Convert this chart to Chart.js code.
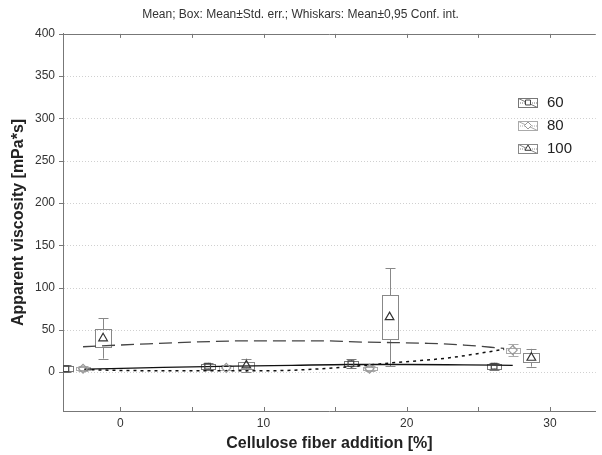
<!DOCTYPE html>
<html>
<head>
<meta charset="utf-8">
<script src="https://cdn.jsdelivr.net/npm/chart.js@4/dist/chart.umd.min.js"></script>
<style>
html,body{margin:0;padding:0;background:#fff;}
#wrap{width:602px;height:455px;}
</style>
</head>
<body>
<div id="wrap"><canvas id="c" width="602" height="455"></canvas></div>
<script>
// ---- data ----
const seriesNames = ['60', '80', '100'];
const xTickLabels = [0, 10, 20, 30];
const yTickLabels = [0, 50, 100, 150, 200, 250, 300, 350, 400];

const x60 = [-3.8, 6.1, 16.1, 26.1];
const mean60 = [4, 7, 10, 7];
const se60 = [3, 3, 3, 3];
const ci60 = [4, 4, 5, 4];

const x80 = [-2.6, 7.4, 17.4, 27.4];
const mean80 = [4, 5, 4, 26];
const se80 = [2, 2, 2, 3];
const ci80 = [3, 3, 3, 7];

const x100 = [-1.2, 8.8, 18.8, 28.7];
const mean100 = [40, 8, 65, 17];
const se100 = [10.5, 4, 26, 5.5];
const ci100 = [24, 8, 58, 10.5];

const fitX60 = [-2.5, 3, 8, 12, 16, 20, 24, 27.4];
const fitY60 = [3.5, 5.5, 7, 8, 9, 9, 8.5, 8];
const fitX80 = [-2.5, 0, 5, 10, 15, 19, 23, 26.8];
const fitY80 = [3, 2, 1.5, 1.5, 5, 11, 17, 27];
const fitX100 = [-2.6, 1.3, 5, 9, 14, 17, 21.5, 24, 26.8];
const fitY100 = [30, 33, 35.5, 37, 37, 35.5, 34, 32, 28];

const pts = (xs, ys) => xs.map((x, i) => ({x: x, y: ys[i]}));

const styles = [
  {marker: 'rect', mColor: '#444', bColor: '#777', boxW: 14, r: 4},
  {marker: 'rectRot', mColor: '#999', bColor: '#aaa', boxW: 14, r: 4.5},
  {marker: 'triangle', mColor: '#333', bColor: '#888', boxW: 16, r: 5}
];
const groups = [
  {xs: x60, m: mean60, se: se60, ci: ci60},
  {xs: x80, m: mean80, se: se80, ci: ci80},
  {xs: x100, m: mean100, se: se100, ci: ci100}
];

const FONT = '"Liberation Sans", Arial, sans-serif';

const boxPlugin = {
  id: 'boxes',
  beforeDatasetsDraw(chart) {
    const ctx = chart.ctx, xs = chart.scales.x, ys = chart.scales.y, a = chart.chartArea;
    ctx.save();
    // grid lines (faint dotted)
    ctx.strokeStyle = '#d0d0d0'; ctx.lineWidth = 1; ctx.setLineDash([1, 2]);
    ctx.beginPath();
    yTickLabels.forEach(v => {
      if (v >= 400) return;
      const py = Math.round(ys.getPixelForValue(v)) + 0.5;
      ctx.moveTo(a.left + 1, py); ctx.lineTo(a.right, py);
    });
    ctx.stroke();
    ctx.setLineDash([]);
    ctx.beginPath(); ctx.rect(a.left, a.top, a.right - a.left, a.bottom - a.top); ctx.clip();
    groups.forEach((g, si) => {
      const st = styles[si];
      ctx.strokeStyle = st.bColor; ctx.lineWidth = 1;
      g.xs.forEach((x, i) => {
        const px = Math.round(xs.getPixelForValue(x)) + 0.5;
        const bt = ys.getPixelForValue(g.m[i] + g.se[i]);
        const bb = ys.getPixelForValue(g.m[i] - g.se[i]);
        const wt = ys.getPixelForValue(g.m[i] + g.ci[i]);
        const wb = ys.getPixelForValue(g.m[i] - g.ci[i]);
        ctx.beginPath();
        ctx.moveTo(px, wt); ctx.lineTo(px, bt);
        ctx.moveTo(px, bb); ctx.lineTo(px, wb);
        ctx.moveTo(px - 5, Math.round(wt) + 0.5); ctx.lineTo(px + 5, Math.round(wt) + 0.5);
        ctx.moveTo(px - 5, Math.round(wb) + 0.5); ctx.lineTo(px + 5, Math.round(wb) + 0.5);
        ctx.stroke();
        ctx.strokeRect(px - st.boxW / 2, Math.round(bt) + 0.5, st.boxW, Math.round(bb) - Math.round(bt));
      });
    });
    ctx.restore();
  },
  afterDraw(chart) {
    const ctx = chart.ctx, xs = chart.scales.x, ys = chart.scales.y, a = chart.chartArea;
    ctx.save();
    ctx.strokeStyle = '#777'; ctx.lineWidth = 1;
    // top frame
    ctx.beginPath();
    ctx.moveTo(a.left, Math.round(a.top) + 0.5); ctx.lineTo(a.right, Math.round(a.top) + 0.5);
    ctx.stroke();
    // x ticks (inside, top & bottom)
    ctx.beginPath();
    for (let v = 0; v <= 30; v += 5) {
      const px = Math.round(xs.getPixelForValue(v)) + 0.5;
      ctx.moveTo(px, a.top); ctx.lineTo(px, a.top + 4);
      ctx.moveTo(px, a.bottom); ctx.lineTo(px, a.bottom - 4);
    }
    // y ticks (outside)
    yTickLabels.forEach(v => {
      const py = Math.round(ys.getPixelForValue(v)) + 0.5;
      ctx.moveTo(a.left - 4, py); ctx.lineTo(a.left, py);
    });
    ctx.stroke();
    // legend
    const lx = 518, ly = [102, 125, 148];
    seriesNames.forEach((name, i) => {
      const st = styles[i];
      const y0 = ly[i] - 4, w = 19, h = 9;
      ctx.strokeStyle = st.bColor; ctx.lineWidth = 1;
      ctx.strokeRect(lx + 0.5, y0 + 0.5, w, h);
      ctx.beginPath(); ctx.moveTo(lx + 0.5, y0 + 0.5); ctx.lineTo(lx + w + 0.5, y0 + h + 0.5); ctx.stroke();
      ctx.setLineDash([1, 1]);
      ctx.beginPath(); ctx.moveTo(lx, y0 + h / 2 + 0.5); ctx.lineTo(lx + w, y0 + h / 2 + 0.5); ctx.stroke();
      ctx.setLineDash([]);
      ctx.fillStyle = '#fff';
      ctx.strokeStyle = st.mColor;
      Chart.helpers.drawPoint(ctx, {pointStyle: st.marker, radius: 3.5, rotation: 0, borderWidth: 1}, lx + w / 2 + 0.5, ly[i] + 0.5);
      ctx.fillStyle = '#222';
      ctx.font = '15px ' + FONT;
      ctx.textBaseline = 'middle';
      ctx.textAlign = 'left';
      ctx.fillText(name, 547, ly[i] + 1);
    });
    ctx.restore();
  }
};

const lineDs = (xs, ys, color, dash, w) => ({
  type: 'line', data: pts(xs, ys), borderColor: color, borderWidth: w, borderDash: dash,
  pointRadius: 0, tension: 0.4, cubicInterpolationMode: 'monotone', fill: false, order: 2
});

const markerDs = (g, st) => ({
  type: 'scatter', data: pts(g.xs, g.m), pointStyle: st.marker, pointRadius: st.r,
  pointBorderColor: st.mColor, pointBackgroundColor: 'rgba(255,255,255,0)', pointBorderWidth: 1.2, order: 1
});

new Chart(document.getElementById('c'), {
  data: {
    datasets: [
      lineDs(fitX60, fitY60, '#111', [], 1.3),
      lineDs(fitX80, fitY80, '#111', [3, 4], 1.5),
      lineDs(fitX100, fitY100, '#444', [13, 6], 1.3),
      markerDs(groups[0], styles[0]),
      markerDs(groups[1], styles[1]),
      markerDs(groups[2], styles[2])
    ]
  },
  options: {
    responsive: false,
    animation: false,
    layout: {padding: {right: 1, left: 0, top: 0, bottom: 0}},
    plugins: {
      legend: {display: false},
      tooltip: {enabled: false},
      title: {
        display: true,
        text: 'Mean; Box: Mean±Std. err.; Whiskars: Mean±0,95 Conf. int.',
        color: '#333',
        font: {family: FONT, size: 12, weight: 'normal'},
        padding: {top: 7, bottom: 12.5}
      }
    },
    scales: {
      x: {
        type: 'linear', min: -4, max: 33.2,
        afterBuildTicks: s => { s.ticks = xTickLabels.map(v => ({value: v})); },
        afterFit: s => { s.height = 44; },
        grid: {display: false, drawTicks: false},
        border: {display: true, color: '#777', width: 1},
        ticks: {color: '#333', font: {family: FONT, size: 12}, padding: 5, callback: v => v},
        title: {display: true, text: 'Cellulose fiber addition [%]', color: '#222',
          font: {family: FONT, size: 16, weight: 'bold'}, padding: {top: 0, bottom: 2}}
      },
      y: {
        type: 'linear', min: -46, max: 400,
        afterBuildTicks: s => { s.ticks = yTickLabels.map(v => ({value: v})); },
        afterFit: s => { s.width = 63; },
        grid: {display: false, drawTicks: false},
        border: {display: true, color: '#777', width: 1},
        ticks: {color: '#333', font: {family: FONT, size: 12}, padding: 8, callback: v => v},
        title: {display: true, text: 'Apparent viscosity [mPa*s]', color: '#222',
          font: {family: FONT, size: 16, weight: 'bold'}, padding: {top: 9, bottom: 0}}
      }
    }
  },
  plugins: [boxPlugin]
});
</script>
</body>
</html>
